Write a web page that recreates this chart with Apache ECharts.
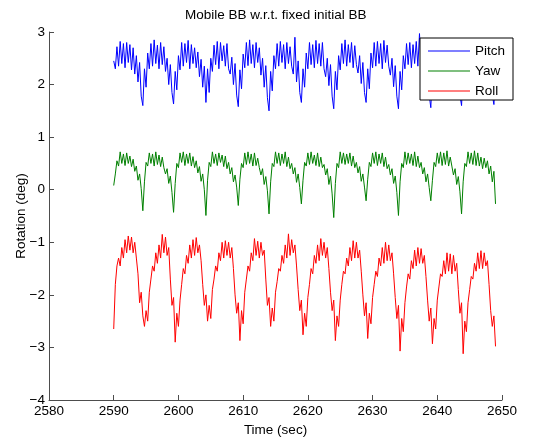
<!DOCTYPE html>
<html>
<head>
<meta charset="utf-8">
<script src="https://cdn.jsdelivr.net/npm/echarts@6/dist/echarts.min.js"></script>
<style>
  html, body { margin: 0; padding: 0; background: #fff; }
  #chart { width: 540px; height: 438px; }
</style>
</head>
<body>
<div id="chart"></div>
<script>
// Sample clock: first sample time and spacing, in seconds
const t0 = 2590;
const dt = 0.25;

const seriesNames = ['Pitch', 'Yaw', 'Roll'];
const xTicks = [2580, 2590, 2600, 2610, 2620, 2630, 2640, 2650];
const yTicks = [-4, -3, -2, -1, 0, 1, 2, 3];

// Rotation samples (deg), one value per dt
const pitch = [
  2.45, 2.30, 2.72, 2.35, 2.82, 2.40, 2.78, 2.32, 2.80, 2.42, 2.76, 2.28, 2.70,
  2.20, 2.55, 2.05, 2.42, 1.78, 1.60, 2.30, 1.95, 2.60, 2.30,
  2.78, 2.35, 2.85, 2.40, 2.75, 2.30, 2.80, 2.38, 2.72,
  2.25, 2.50, 2.00, 2.38, 1.85, 1.63, 2.25, 1.90, 2.55, 2.28,
  2.80, 2.35, 2.78, 2.42, 2.84, 2.30, 2.76, 2.40, 2.70, 2.32,
  2.62, 2.15, 2.48, 1.95, 2.35, 1.66, 2.30, 1.85, 2.50, 2.25,
  2.75, 2.38, 2.82, 2.30, 2.80, 2.45, 2.74, 2.35, 2.78, 2.30,
  2.20, 2.52, 2.00, 2.40, 1.80, 1.58, 2.28, 1.92, 2.58, 2.32,
  2.80, 2.36, 2.85, 2.40, 2.76, 2.32, 2.80, 2.42, 2.70,
  2.18, 2.50, 1.95, 2.36, 1.75, 1.50, 2.25, 1.88, 2.55, 2.30,
  2.78, 2.35, 2.82, 2.42, 2.76, 2.30, 2.80, 2.40, 2.72, 2.35,
  2.20, 2.90, 2.05, 2.45, 1.85, 1.66, 2.30, 1.95, 2.60, 2.30,
  2.80, 2.38, 2.76, 2.32, 2.84, 2.40, 2.78, 2.35, 2.80, 2.30,
  2.15, 2.50, 1.98, 2.38, 1.78, 1.54, 2.25, 1.90, 2.55, 2.28,
  2.78, 2.40, 2.85, 2.35, 2.76, 2.42, 2.80, 2.32, 2.74, 2.38,
  2.22, 2.55, 2.02, 2.42, 1.85, 1.66, 2.30, 1.92, 2.60, 2.32,
  2.80, 2.35, 2.82, 2.40, 2.78, 2.30, 2.84, 2.42, 2.75, 2.35,
  2.18, 2.50, 1.96, 2.36, 1.78, 1.54, 2.25, 1.90, 2.55, 2.30,
  2.78, 2.38, 2.80, 2.32, 2.76, 2.40, 2.82, 2.35, 2.97, 2.30,
  2.20, 2.52, 2.00, 2.40, 1.80, 1.56, 2.28, 1.90, 2.58, 2.30,
  2.80, 2.36, 2.84, 2.40, 2.76, 2.32, 2.80, 2.40, 2.72,
  2.20, 2.50, 1.98, 2.38, 1.80, 1.60, 2.25, 1.90, 2.55, 2.30,
  2.78, 2.35, 2.82, 2.40, 2.76, 2.30, 2.80, 2.38, 2.74, 2.30,
  2.20, 2.50, 1.98, 2.36, 1.80, 1.62, 2.20
];

const yaw = [
  0.08, 0.30, 0.55, 0.45, 0.72, 0.50, 0.68, 0.46, 0.70, 0.50, 0.64, 0.44,
  0.58, 0.35, 0.45, 0.18, 0.30, 0.02, -0.40, 0.15, 0.52, 0.45,
  0.70, 0.50, 0.68, 0.45, 0.72, 0.48, 0.66, 0.44, 0.62,
  0.42, 0.30, 0.40, 0.12, 0.26, -0.05, -0.43, 0.12, 0.50, 0.42,
  0.70, 0.52, 0.72, 0.46, 0.68, 0.50, 0.70, 0.45, 0.63, 0.42,
  0.55, 0.32, 0.44, 0.16, 0.30, 0.00, -0.49, 0.18, 0.52, 0.44,
  0.72, 0.50, 0.68, 0.46, 0.70, 0.52, 0.66, 0.44, 0.64, 0.40,
  0.52, 0.30, 0.42, 0.15, 0.28, 0.05, -0.30, 0.20, 0.50, 0.42,
  0.70, 0.48, 0.72, 0.50, 0.68, 0.45, 0.70, 0.46, 0.60,
  0.42, 0.28, 0.40, 0.10, 0.25, -0.02, -0.46, 0.15, 0.50, 0.44,
  0.72, 0.50, 0.70, 0.46, 0.68, 0.50, 0.72, 0.44, 0.62, 0.40,
  0.50, 0.30, 0.42, 0.14, 0.30, 0.04, -0.27, 0.18, 0.52, 0.45,
  0.70, 0.48, 0.72, 0.50, 0.66, 0.46, 0.70, 0.44, 0.62, 0.42,
  0.48, 0.28, 0.40, 0.10, 0.26, -0.08, -0.53, 0.12, 0.50, 0.42,
  0.72, 0.50, 0.70, 0.48, 0.68, 0.50, 0.70, 0.45, 0.64, 0.42,
  0.52, 0.32, 0.44, 0.16, 0.30, 0.05, -0.21, 0.20, 0.52, 0.44,
  0.70, 0.50, 0.72, 0.46, 0.68, 0.50, 0.70, 0.44, 0.62, 0.40,
  0.48, 0.28, 0.40, 0.12, 0.26, -0.05, -0.49, 0.15, 0.50, 0.42,
  0.72, 0.48, 0.70, 0.50, 0.68, 0.46, 0.72, 0.44, 0.64, 0.42,
  0.52, 0.30, 0.42, 0.15, 0.30, 0.04, -0.21, 0.18, 0.52, 0.44,
  0.70, 0.50, 0.72, 0.46, 0.70, 0.48, 0.74, 0.45, 0.62,
  0.45, 0.28, 0.40, 0.10, 0.25, -0.04, -0.46, 0.15, 0.50, 0.44,
  0.72, 0.50, 0.70, 0.48, 0.74, 0.46, 0.70, 0.45, 0.62, 0.40,
  0.60, 0.42, 0.55, 0.30, 0.45, 0.15, 0.35, -0.27
];

const roll = [
  -2.65, -1.80, -1.45, -1.30, -1.45, -1.10, -1.30, -0.95, -1.20, -0.88,
  -1.15, -0.90, -1.20, -1.00, -1.30, -1.60, -2.15, -1.95, -2.40, -2.60,
  -2.30, -2.50, -1.95, -1.70, -1.45, -1.55, -1.20, -1.40, -1.05, -1.30,
  -0.85, -1.20, -0.90, -1.25, -1.10, -1.70, -2.20, -2.05, -2.90,
  -2.35, -2.60, -2.10, -1.80, -1.50, -1.60, -1.25, -1.40, -1.05, -1.30,
  -0.95, -1.25, -0.91, -1.20, -1.05, -1.35, -1.80, -2.20, -2.00, -2.50,
  -2.20, -2.45, -1.90, -1.70, -1.45, -1.55, -1.20, -1.35, -1.00, -1.30,
  -0.97, -1.25, -1.00, -1.30, -1.10, -1.50, -2.00, -2.35, -2.15, -2.87,
  -2.30, -2.55, -1.95, -1.70, -1.45, -1.55, -1.20, -1.35, -0.93, -1.25,
  -0.98, -1.30, -1.00, -1.25, -1.15, -1.70, -2.20, -2.05, -2.60,
  -2.25, -2.50, -1.95, -1.75, -1.50, -1.55, -1.25, -1.40, -1.05, -1.30,
  -0.84, -1.25, -0.95, -1.20, -1.05, -1.45, -1.90, -2.30, -2.10, -2.76,
  -2.35, -2.60, -2.05, -1.80, -1.50, -1.60, -1.25, -1.40, -1.05, -1.35,
  -0.93, -1.25, -1.00, -1.30, -1.10, -1.50, -1.95, -2.30, -2.10, -2.87,
  -2.40, -2.60, -2.10, -1.80, -1.55, -1.60, -1.30, -1.45, -1.10, -1.35,
  -0.97, -1.30, -1.00, -1.30, -1.15, -1.55, -2.00, -2.40, -2.15, -2.83,
  -2.35, -2.55, -2.05, -1.80, -1.55, -1.65, -1.30, -1.45, -1.10, -1.40,
  -1.00, -1.35, -1.05, -1.35, -1.20, -1.60, -2.05, -2.45, -2.20, -3.07,
  -2.45, -2.70, -2.15, -1.85, -1.60, -1.70, -1.35, -1.50, -1.15, -1.45,
  -1.10, -1.40, -1.12, -1.40, -1.25, -1.65, -2.10, -2.50, -2.25, -2.93,
  -2.45, -2.65, -2.10, -1.85, -1.60, -1.65, -1.35, -1.60, -1.20, -1.55,
  -1.22, -1.60, -1.25, -1.55, -1.40, -1.90, -2.35, -2.15, -3.12,
  -2.50, -2.70, -2.15, -1.90, -1.65, -1.70, -1.40, -1.55, -1.20, -1.50,
  -1.16, -1.50, -1.20, -1.45, -1.35, -1.80, -2.30, -2.60, -2.40, -2.98
];

const lineColors = ['#0000ff', '#008000', '#ff0000'];
const legendLineColors = ['#0000ff', '#7fbf7f', '#ff0000'];
// legend keys: flat bars, 42 px long
const legendIcons = [
  'path://M0,0L42,0L42,1L0,1Z',
  'path://M0,0L42,0L42,2L0,2Z',
  'path://M0,0L42,0L42,1L0,1Z'
];
const FONT = '"Liberation Sans", Arial, Helvetica, sans-serif';

function toPairs(values) {
  return values.map((v, i) => [t0 + i * dt, v]);
}

const chart = echarts.init(document.getElementById('chart'), null, { renderer: 'canvas' });

const axisCommon = {
  axisLine: { show: true, onZero: false, lineStyle: { color: '#4d4d4d', width: 1 } },
  axisTick: { show: true, inside: true, length: 5, lineStyle: { color: '#4d4d4d', width: 1 } },
  splitLine: { show: false },
  nameMoveOverlap: false,
  nameTextStyle: { color: '#000', fontFamily: FONT, fontSize: 13.5 }
};

chart.setOption({
  animation: false,
  backgroundColor: '#ffffff',
  textStyle: { fontFamily: FONT },
  title: {
    text: 'Mobile BB w.r.t. fixed initial BB',
    left: 185,
    top: 8,
    padding: 0,
    textStyle: { color: '#000', fontFamily: FONT, fontSize: 13.5, fontWeight: 'normal' }
  },
  grid: {
    left: 49, right: 38, top: 32, bottom: 38,
    containLabel: false,
    outerBoundsMode: 'none'
  },
  legend: {
    show: true,
    orient: 'vertical',
    left: 420,
    top: 38,
    padding: [6, 8, 2, 8],
    itemWidth: 42,
    itemHeight: 14,
    itemGap: 6,
    symbolKeepAspect: true,
    backgroundColor: '#ffffff',
    borderColor: '#000',
    borderWidth: 1,
    borderRadius: 0,
    textStyle: { color: '#000', fontFamily: FONT, fontSize: 13.5 },
    data: seriesNames.map((n, k) => ({
      name: n,
      icon: legendIcons[k],
      itemStyle: { color: legendLineColors[k], borderWidth: 0 }
    }))
  },
  xAxis: Object.assign({}, axisCommon, {
    type: 'value',
    min: xTicks[0],
    max: xTicks[xTicks.length - 1],
    interval: xTicks[1] - xTicks[0],
    name: 'Time (sec)',
    nameLocation: 'middle',
    nameGap: 23,
    axisLabel: { color: '#000', fontFamily: FONT, fontSize: 13.5, margin: 4, formatter: v => String(v) }
  }),
  yAxis: Object.assign({}, axisCommon, {
    type: 'value',
    min: yTicks[0],
    max: yTicks[yTicks.length - 1],
    interval: 1,
    name: 'Rotation (deg)',
    nameLocation: 'middle',
    nameGap: 21,
    axisLabel: {
      color: '#000', fontFamily: FONT, fontSize: 13.5, margin: 4,
      formatter: v => String(v).replace('-', '\u2212')
    }
  }),
  series: [pitch, yaw, roll].map((vals, k) => ({
    name: seriesNames[k],
    type: 'line',
    data: toPairs(vals),
    symbol: 'none',
    showSymbol: false,
    smooth: false,
    clip: true,
    lineStyle: { color: lineColors[k], width: 1 },
    itemStyle: { color: lineColors[k] },
    emphasis: { disabled: true }
  }))
});
</script>
</body>
</html>
